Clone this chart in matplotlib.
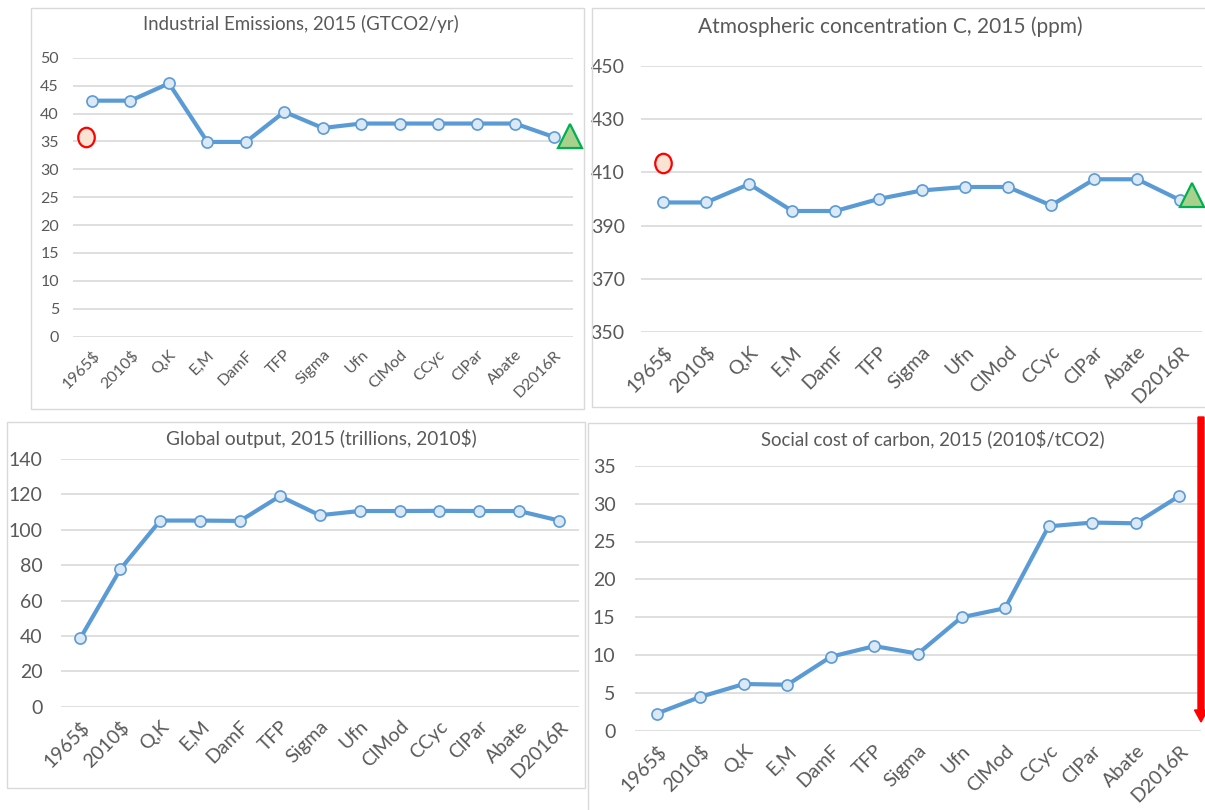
import numpy as np
import matplotlib
matplotlib.use("Agg")
from matplotlib import pyplot as plt
from matplotlib.patches import Rectangle, FancyArrow
from matplotlib.path import Path

plt.rcParams['font.family'] = ['Lato', 'DejaVu Sans']

categories = ['1965$', '2010$', 'Q,K', 'E,M', 'DamF', 'TFP', 'Sigma', 'Ufn',
              'ClMod', 'CCyc', 'ClPar', 'Abate', 'D2016R']

emissions = [42.3, 42.3, 45.4, 34.9, 34.9, 40.3, 37.4, 38.2, 38.2, 38.2, 38.2, 38.2, 35.8]
emis_obs = 35.7      # red circle
emis_new = 35.9      # green triangle

conc = [398.7, 398.7, 405.6, 395.5, 395.5, 400.0, 403.2, 404.5, 404.5, 397.6, 407.4, 407.4, 399.5]
conc_obs = 413.5
conc_new = 401.5

output = [38.8, 77.7, 105.2, 105.2, 105.0, 119.0, 108.2, 110.6, 110.6, 110.7, 110.6, 110.6, 105.2]

scc = [2.3, 4.5, 6.2, 6.1, 9.8, 11.2, 10.2, 15.0, 16.2, 27.0, 27.5, 27.4, 31.0]

W, H = 1205, 810
fig = plt.figure(figsize=(W / 100, H / 100), dpi=100)

LINE = '#5b9bd5'
FILL = '#dbe8f6'
GRID = '#d9d9d9'
TXT = '#595959'


def px_axes(x0, y_top, x1, y_bot):
    return fig.add_axes([x0 / W, 1 - y_bot / H, (x1 - x0) / W, (y_bot - y_top) / H])


def border(x0, y0, x1, y1):
    fig.patches.append(Rectangle((x0 / W, 1 - y1 / H), (x1 - x0) / W, (y1 - y0) / H,
                                 transform=fig.transFigure, fill=False,
                                 edgecolor=GRID, lw=1.0))


def panel(ax, vals, ylim, yticks, fs, ypad):
    x = np.arange(len(categories))
    ax.plot(x, vals, color=LINE, lw=3, marker='o', ms=8, mfc=FILL, mec=LINE,
            mew=1.2, clip_on=False, zorder=3)
    ax.set_xlim(-0.5, len(categories) - 0.5)
    ax.set_ylim(*ylim)
    ax.set_yticks(yticks)
    ax.set_xticks(x)
    ax.set_xticklabels(categories, rotation=45, ha='right', rotation_mode='anchor')
    ax.tick_params(length=0, labelsize=fs, colors=TXT)
    ax.tick_params(axis='y', pad=ypad)
    ax.tick_params(axis='x', pad=8)
    for s in ax.spines.values():
        s.set_visible(False)
    ax.grid(axis='y', color=GRID, lw=1.2)
    ax.set_axisbelow(True)


# tall ellipse marker for observed values
circ = Path.unit_circle()
ell = Path(circ.vertices * np.array([0.85, 1.0]), circ.codes)


def obs(ax, xpos, val):
    ax.plot([xpos], [val], marker=ell, ms=14, mfc='#fbe3d4', mec='#ff0000',
            mew=1.6, ls='none', clip_on=False, zorder=4)


def new(ax, xpos, val):
    ax.plot([xpos], [val], marker='^', ms=17, mfc='#a9d18e', mec='#00b050',
            mew=1.6, ls='none', clip_on=False, zorder=4)


# panel borders
border(31, 8, 584, 409)
border(592, 8, 1210, 407)
border(7, 422, 585, 788)
border(588, 423, 1210, 815)

ax1 = px_axes(72.8, 57.7, 572.8, 336.7)
panel(ax1, emissions, (0, 50), range(0, 51, 5), 11.5, 10)
obs(ax1, -0.16, emis_obs)
new(ax1, 12.43, emis_new)

ax2 = px_axes(641.4, 65.7, 1202, 332.3)
panel(ax2, conc, (350, 450), range(350, 451, 20), 14, 12)
obs(ax2, 0.0, conc_obs)
new(ax2, 12.27, conc_new)

ax3 = px_axes(60.5, 459, 579, 706.7)
panel(ax3, output, (0, 140), range(0, 141, 20), 14, 13)

ax4 = px_axes(635, 465.7, 1201, 731)
panel(ax4, scc, (0, 35), range(0, 36, 5), 14, 14)

titles = [("Industrial Emissions, 2015 (GTCO2/yr)", 300.7, 24, 13.4),
          ("Atmospheric concentration C, 2015 (ppm)", 890.6, 27, 15),
          ("Global output, 2015 (trillions, 2010$)", 321.8, 438, 13.8),
          ("Social cost of carbon, 2015 (2010$/tCO2)", 932.4, 439, 13.4)]
for t, tx, ty, fs in titles:
    fig.text(tx / W, 1 - ty / H, t, ha='center', va='center', fontsize=fs, color=TXT)

# red arrow on the right edge
fig.patches.append(FancyArrow(1201 / W, 1 - 417 / H, 0, -(722 - 417) / H,
                              width=6 / W, head_width=13 / W, head_length=12 / H,
                              length_includes_head=True, color='#ff0000',
                              transform=fig.transFigure))

fig.savefig('out.png', dpi=100)
